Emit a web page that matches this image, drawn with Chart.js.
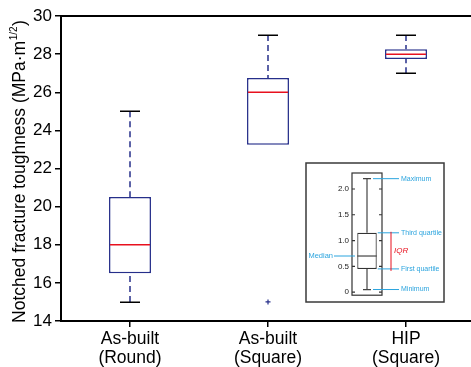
<!DOCTYPE html>
<html>
<head>
<meta charset="utf-8">
<script src="https://cdn.jsdelivr.net/npm/chart.js@4/dist/chart.umd.min.js"></script>
<style>
  html, body { margin: 0; padding: 0; background: #fff; }
  #wrap { position: relative; width: 471px; height: 367px; overflow: hidden; background: #fff; }
  #main { position: absolute; left: 0; top: 0; }
  #inset { position: absolute; left: 305px; top: 162px; }
</style>
</head>
<body>
<div id="wrap">
  <canvas id="main" width="490" height="367"></canvas>
  <canvas id="inset" width="140" height="141"></canvas>
</div>
<script>
// Box-plot statistics per specimen group
const categories = [['As-built', '(Round)'], ['As-built', '(Square)'], ['HIP', '(Square)']];
const whiskerLow = [15, 23.25, 27];
const quartile1 = [16.5, 23.25, 27.75];
const medians = [18, 26, 28];
const quartile3 = [20.5, 26.75, 28.25];
const whiskerHigh = [25, 29, 29];
const outliers = [[], [15], []];
const yMin = 14, yMax = 30, yStep = 2;

// Explanatory key box (schematic values)
const keyStats = [0.05, 0.45, 0.7, 1.15, 2.2]; // min, Q1, median, Q3, max
const keyTicks = [0, 0.5, 1.0, 1.5, 2.0];
const keyRange = [-0.06, 2.31];
const keyLabels = ['Maximum', 'Third quartile', 'Median', 'First quartile', 'Minimum'];
const iqrLabel = 'IQR';

const FONT = '"Liberation Sans", Arial, Helvetica, sans-serif';
const BOX_BLUE = '#262f8a';
const MEDIAN_RED = '#e8101e';
const KEY_BLUE = '#2ba4de';

const whiskerPlugin = {
  id: 'boxWhiskers',
  beforeDraw(chart) {
    const ctx = chart.ctx;
    ctx.save();
    ctx.fillStyle = '#fff';
    ctx.fillRect(0, 0, chart.width, chart.height);
    ctx.restore();
  },
  afterDatasetsDraw(chart) {
    const { ctx, scales: { y } } = chart;
    const bars = chart.getDatasetMeta(0).data;
    ctx.save();
    categories.forEach((c, i) => {
      const bar = bars[i];
      const cx = bar.x;
      const half = bar.width / 2;
      const capHalf = 10;
      // dashed whiskers
      ctx.strokeStyle = BOX_BLUE;
      ctx.lineWidth = 1.5;
      ctx.setLineDash([6, 4]);
      if (whiskerHigh[i] > quartile3[i]) {
        ctx.beginPath();
        ctx.moveTo(cx, y.getPixelForValue(whiskerHigh[i]));
        ctx.lineTo(cx, y.getPixelForValue(quartile3[i]));
        ctx.stroke();
      }
      if (whiskerLow[i] < quartile1[i]) {
        ctx.beginPath();
        ctx.moveTo(cx, y.getPixelForValue(whiskerLow[i]));
        ctx.lineTo(cx, y.getPixelForValue(quartile1[i]));
        ctx.stroke();
      }
      ctx.setLineDash([]);
      // whisker caps
      ctx.strokeStyle = '#000';
      ctx.lineWidth = 1.5;
      if (whiskerHigh[i] > quartile3[i]) {
        const yy = Math.round(y.getPixelForValue(whiskerHigh[i])) + 0.25;
        ctx.beginPath(); ctx.moveTo(cx - capHalf, yy); ctx.lineTo(cx + capHalf, yy); ctx.stroke();
      }
      if (whiskerLow[i] < quartile1[i]) {
        const yy = Math.round(y.getPixelForValue(whiskerLow[i])) + 0.25;
        ctx.beginPath(); ctx.moveTo(cx - capHalf, yy); ctx.lineTo(cx + capHalf, yy); ctx.stroke();
      }
      // median
      ctx.strokeStyle = MEDIAN_RED;
      ctx.lineWidth = 1.5;
      const my = y.getPixelForValue(medians[i]);
      ctx.beginPath(); ctx.moveTo(cx - half + 1, my); ctx.lineTo(cx + half - 1, my); ctx.stroke();
      // outliers
      ctx.strokeStyle = BOX_BLUE;
      ctx.lineWidth = 1.2;
      outliers[i].forEach(v => {
        const oy = y.getPixelForValue(v);
        ctx.beginPath();
        ctx.moveTo(cx - 2.5, oy); ctx.lineTo(cx + 2.5, oy);
        ctx.moveTo(cx, oy - 2.5); ctx.lineTo(cx, oy + 2.5);
        ctx.stroke();
      });
    });
    ctx.restore();
  },
  afterDraw(chart) {
    const { ctx, chartArea } = chart;
    ctx.save();
    // top frame line
    ctx.strokeStyle = '#000';
    ctx.lineWidth = 2;
    ctx.beginPath();
    ctx.moveTo(chartArea.left - 1, chartArea.top);
    ctx.lineTo(chartArea.right, chartArea.top);
    ctx.stroke();
    // y-axis title with superscript exponent
    const main = 'Notched fracture toughness (MPa\u00b7m';
    const sup = '1/2';
    const close = ')';
    const fMain = '17.5px ' + FONT;
    const fSup = '10px ' + FONT;
    ctx.font = fMain;
    const wMain = ctx.measureText(main).width;
    const wClose = ctx.measureText(close).width;
    ctx.font = fSup;
    const wSup = ctx.measureText(sup).width;
    const total = wMain + wSup + wClose + 1;
    const cy = (chartArea.top + chartArea.bottom) / 2 + 3;
    ctx.translate(25, cy);
    ctx.rotate(-Math.PI / 2);
    ctx.fillStyle = '#000';
    ctx.textBaseline = 'alphabetic';
    ctx.textAlign = 'left';
    let x0 = -total / 2;
    ctx.font = fMain;
    ctx.fillText(main, x0, 0);
    ctx.font = fSup;
    ctx.fillText(sup, x0 + wMain + 0.5, -8);
    ctx.font = fMain;
    ctx.fillText(close, x0 + wMain + wSup + 1, 0);
    ctx.restore();
  }
};

new Chart(document.getElementById('main'), {
  type: 'bar',
  data: {
    labels: categories,
    datasets: [{
      data: quartile1.map((q, i) => [q, quartile3[i]]),
      backgroundColor: '#fff',
      borderColor: BOX_BLUE,
      borderWidth: 1.5,
      borderSkipped: false,
      barPercentage: 1,
      categoryPercentage: 0.304
    }]
  },
  options: {
    responsive: false,
    animation: false,
    layout: { padding: { left: 0, right: 15, top: 16, bottom: 0 } },
    plugins: { legend: { display: false }, tooltip: { enabled: false } },
    scales: {
      x: {
        offset: true,
        grid: { display: true, drawOnChartArea: false, offset: false, tickLength: 6, lineWidth: 1.5, color: '#000' },
        border: { display: true, color: '#000', width: 2 },
        ticks: { font: { family: FONT, size: 17.5, lineHeight: 1.12 }, color: '#000', padding: 2, maxRotation: 0, autoSkip: false },
        afterFit(s) { s.height = 46; }
      },
      y: {
        min: yMin,
        max: yMax,
        ticks: { stepSize: yStep, font: { family: FONT, size: 17 }, color: '#000', padding: 3 },
        grid: { display: true, drawOnChartArea: false, tickLength: 6, lineWidth: 1.5, color: '#000' },
        border: { display: true, color: '#000', width: 2 },
        afterFit(s) { s.width = 61; }
      }
    }
  },
  plugins: [whiskerPlugin]
});

// Key: how to read a box plot
const keyPlugin = {
  id: 'boxKey',
  beforeDraw(chart) {
    const ctx = chart.ctx;
    ctx.save();
    ctx.fillStyle = '#fff';
    ctx.fillRect(0, 0, chart.width, chart.height);
    ctx.strokeStyle = '#3a3a3a';
    ctx.lineWidth = 1.5;
    ctx.strokeRect(1, 1, chart.width - 2, chart.height - 2);
    ctx.restore();
  },
  afterDatasetsDraw(chart) {
    const { ctx, chartArea: a, scales: { y } } = chart;
    const bar = chart.getDatasetMeta(0).data[0];
    const cx = bar.x, half = bar.width / 2;
    const [vMin, vQ1, vMed, vQ3, vMax] = keyStats;
    const py = v => y.getPixelForValue(v);
    ctx.save();
    // plot frame
    ctx.strokeStyle = '#333';
    ctx.lineWidth = 1.2;
    ctx.strokeRect(a.left, a.top, a.right - a.left, a.bottom - a.top);
    // inward ticks on both sides
    keyTicks.forEach(t => {
      const ty = py(t);
      ctx.beginPath();
      ctx.moveTo(a.left, ty); ctx.lineTo(a.left + 3, ty);
      ctx.moveTo(a.right, ty); ctx.lineTo(a.right - 3, ty);
      ctx.stroke();
    });
    // whiskers and caps
    ctx.strokeStyle = '#444';
    ctx.lineWidth = 1.2;
    ctx.beginPath();
    ctx.moveTo(cx, py(vMax)); ctx.lineTo(cx, py(vQ3));
    ctx.moveTo(cx, py(vQ1)); ctx.lineTo(cx, py(vMin));
    ctx.moveTo(cx - 4, py(vMax)); ctx.lineTo(cx + 4, py(vMax));
    ctx.moveTo(cx - 4, py(vMin)); ctx.lineTo(cx + 4, py(vMin));
    ctx.stroke();
    // median
    ctx.beginPath();
    ctx.moveTo(cx - half, py(vMed)); ctx.lineTo(cx + half, py(vMed));
    ctx.stroke();
    // callouts
    ctx.strokeStyle = KEY_BLUE;
    ctx.fillStyle = KEY_BLUE;
    ctx.lineWidth = 1;
    ctx.font = '7px ' + FONT;
    ctx.textBaseline = 'middle';
    const endX = a.right + 17;
    const rightCallouts = [
      [keyLabels[0], vMax, cx + 6],
      [keyLabels[1], vQ3, cx + half + 1],
      [keyLabels[3], vQ1, cx + half + 1],
      [keyLabels[4], vMin, cx + 6]
    ];
    rightCallouts.forEach(([txt, v, sx]) => {
      const ly = py(v);
      ctx.beginPath(); ctx.moveTo(sx, ly); ctx.lineTo(endX, ly); ctx.stroke();
      ctx.textAlign = 'left';
      ctx.fillText(txt, endX + 2, ly);
    });
    const medY = py(vMed);
    ctx.beginPath(); ctx.moveTo(29, medY); ctx.lineTo(a.left + 3, medY); ctx.stroke();
    ctx.textAlign = 'right';
    ctx.font = '7.5px ' + FONT;
    ctx.fillText(keyLabels[2], 28, medY);
    // interquartile range
    ctx.strokeStyle = MEDIAN_RED;
    ctx.fillStyle = MEDIAN_RED;
    ctx.beginPath();
    ctx.moveTo(a.right + 9, py(vQ3) - 1); ctx.lineTo(a.right + 9, py(vQ1) + 2);
    ctx.stroke();
    ctx.font = 'italic 8px ' + FONT;
    ctx.textAlign = 'left';
    ctx.fillText(iqrLabel, a.right + 12, (py(vQ3) + py(vQ1)) / 2);
    ctx.restore();
  }
};

new Chart(document.getElementById('inset'), {
  type: 'bar',
  data: {
    labels: [''],
    datasets: [{
      data: [[keyStats[1], keyStats[3]]],
      backgroundColor: '#fff',
      borderColor: '#333',
      borderWidth: 1.2,
      borderSkipped: false,
      barPercentage: 1,
      categoryPercentage: 0.65
    }]
  },
  options: {
    responsive: false,
    animation: false,
    layout: { padding: { left: 0, right: 63, top: 11, bottom: 3 } },
    plugins: { legend: { display: false }, tooltip: { enabled: false } },
    scales: {
      x: { display: false, offset: true },
      y: {
        min: keyRange[0],
        max: keyRange[1],
        afterBuildTicks(s) { s.ticks = keyTicks.map(v => ({ value: v })); },
        ticks: {
          font: { family: FONT, size: 8 },
          color: '#222',
          padding: 3,
          callback: v => (v === 0 ? '0' : v.toFixed(1))
        },
        grid: { display: false, drawTicks: false },
        border: { display: false },
        afterFit(s) { s.width = 47; }
      }
    }
  },
  plugins: [keyPlugin]
});
</script>
</body>
</html>
